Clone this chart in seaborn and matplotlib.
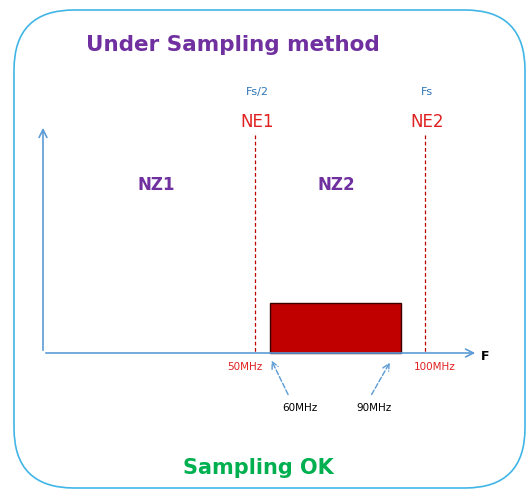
import matplotlib
matplotlib.use("Agg")
import matplotlib.pyplot as plt
from matplotlib.patches import FancyBboxPatch, Rectangle
import seaborn as sns

sns.set_theme(style="white")
plt.rcParams['font.family'] = ['DejaVu Sans']

# Data (MHz)
edge_freqs = [50, 100]
edge_labels = ["50MHz", "100MHz"]
edge_names = ["NE1", "NE2"]
edge_tops = ["Fs/2", "Fs"]
zone_names = ["NZ1", "NZ2"]
zone_centers = [21, 74]
band_start, band_end = 54.5, 93.0
band_labels = ["60MHz", "90MHz"]
band_amp = 50

def fx(f):  # MHz -> pixel
    return 85 + 3.4 * f

W, H = 531, 495
fig = plt.figure(figsize=(W / 100, H / 100), dpi=100)
ax = fig.add_axes([0, 0, 1, 1])
ax.set_xlim(0, W); ax.set_ylim(H, 0); ax.axis("off")

blue = "#5b9bd5"
ax.add_patch(FancyBboxPatch((14, 10), 511, 478, boxstyle="round,pad=0,rounding_size=60",
                            fc="white", ec="#41b6e6", lw=1.2))

ax.text(233, 45, "Under Sampling method", color="#7030a0", fontsize=15.5, fontweight="bold",
        ha="center", va="center")
ax.text(258, 468, "Sampling OK", color="#00b050", fontsize=15, fontweight="bold",
        ha="center", va="center")

y0 = 353
ax.annotate("", xy=(478, y0), xytext=(43, y0),
            arrowprops=dict(arrowstyle="->", color=blue, lw=1.2, mutation_scale=14))
ax.annotate("", xy=(43, 125), xytext=(43, y0),
            arrowprops=dict(arrowstyle="->", color=blue, lw=1.2, mutation_scale=14))
ax.text(485, 356, "F", fontsize=9, fontweight="bold", ha="center", va="center", color="black")

for f, lab, nm, top in zip(edge_freqs, edge_labels, edge_names, edge_tops):
    x = fx(f)
    ax.plot([x, x], [135, y0], color="#c00000", ls=(0, (3, 2)), lw=0.9)
    ax.text(x + 2, 122, nm, color="#e02020", fontsize=12, ha="center", va="center")
    ax.text(x + 2, 92, top, color="#2e75b6", fontsize=8, ha="center", va="center")
    ax.text(x + (-10 if f == 50 else 10), 367, lab, color="#e02020", fontsize=7.5,
            ha="center", va="center")

for nm, c in zip(zone_names, zone_centers):
    ax.text(fx(c), 185, nm, color="#7030a0", fontsize=12, fontweight="bold",
            ha="center", va="center")

xs, xe = fx(band_start), fx(band_end)
ax.add_patch(Rectangle((xs, y0 - band_amp), xe - xs, band_amp, fc="#c00000", ec="#3a0000", lw=1))

ax.annotate("", xy=(xs, y0 + 5), xytext=(xs + 19, 397),
            arrowprops=dict(arrowstyle="->", color=blue, ls="--", lw=1))
ax.annotate("", xy=(xe - 10, y0 + 7), xytext=(xe - 31, 397),
            arrowprops=dict(arrowstyle="->", color=blue, ls="--", lw=1))
ax.text(xs + 30, 408, band_labels[0], fontsize=7.5, ha="center", va="center", color="black")
ax.text(xe - 27, 408, band_labels[1], fontsize=7.5, ha="center", va="center", color="black")

fig.savefig("out.png", dpi=100)
